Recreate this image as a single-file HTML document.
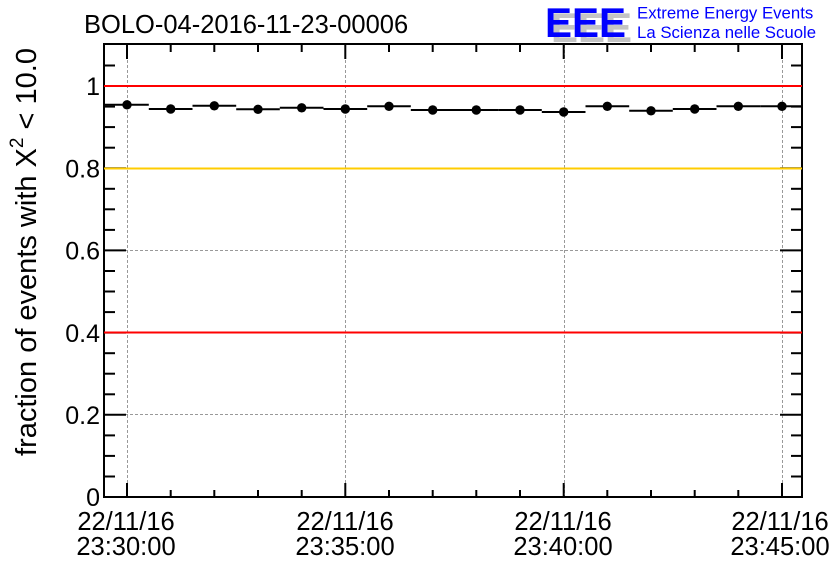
<!DOCTYPE html>
<html><head><meta charset="utf-8"><style>
html,body{margin:0;padding:0;background:#fff;}
svg{display:block;}
text{font-family:"Liberation Sans",Arial,sans-serif;}
</style></head><body>
<svg width="836" height="572" viewBox="0 0 836 572" xmlns="http://www.w3.org/2000/svg">
<rect x="0" y="0" width="836" height="572" fill="#fff"/>
<!-- grid -->
<g stroke="#999" stroke-width="1" stroke-dasharray="3,2" fill="none">
<line x1="127.5" y1="45" x2="127.5" y2="496"/>
<line x1="345.5" y1="45" x2="345.5" y2="496"/>
<line x1="564.5" y1="45" x2="564.5" y2="496"/>
<line x1="782.5" y1="45" x2="782.5" y2="496"/>
<line x1="105" y1="250.5" x2="801" y2="250.5"/>
<line x1="105" y1="414.5" x2="801" y2="414.5"/>
</g>
<!-- data bins -->
<g stroke="#000" stroke-width="2">
<line x1="105" y1="104.8" x2="148.8" y2="104.8"/>
<line x1="148.8" y1="109" x2="192.5" y2="109"/>
<line x1="192.5" y1="105.8" x2="236.2" y2="105.8"/>
<line x1="236.2" y1="109.3" x2="279.8" y2="109.3"/>
<line x1="279.8" y1="107.8" x2="323.5" y2="107.8"/>
<line x1="323.5" y1="109" x2="367.2" y2="109"/>
<line x1="367.2" y1="106.3" x2="410.8" y2="106.3"/>
<line x1="410.8" y1="110" x2="454.5" y2="110"/>
<line x1="454.5" y1="110" x2="498.2" y2="110"/>
<line x1="498.2" y1="110" x2="541.8" y2="110"/>
<line x1="541.8" y1="112" x2="585.5" y2="112"/>
<line x1="585.5" y1="106.3" x2="629.2" y2="106.3"/>
<line x1="629.2" y1="110.8" x2="672.8" y2="110.8"/>
<line x1="672.8" y1="109" x2="716.5" y2="109"/>
<line x1="716.5" y1="106.3" x2="760.2" y2="106.3"/>
<line x1="760.2" y1="106.3" x2="802" y2="106.3"/>
</g>
<g fill="#000">
<circle cx="127" cy="104.8" r="4.7"/>
<circle cx="170.7" cy="109" r="4.7"/>
<circle cx="214.3" cy="105.8" r="4.7"/>
<circle cx="258" cy="109.3" r="4.7"/>
<circle cx="301.7" cy="107.8" r="4.7"/>
<circle cx="345.3" cy="109" r="4.7"/>
<circle cx="389" cy="106.3" r="4.7"/>
<circle cx="432.7" cy="110" r="4.7"/>
<circle cx="476.3" cy="110" r="4.7"/>
<circle cx="520" cy="110" r="4.7"/>
<circle cx="563.7" cy="112" r="4.7"/>
<circle cx="607.3" cy="106.3" r="4.7"/>
<circle cx="651" cy="110.8" r="4.7"/>
<circle cx="694.7" cy="109" r="4.7"/>
<circle cx="738.3" cy="106.3" r="4.7"/>
<circle cx="782" cy="106.3" r="4.7"/>
</g>
<!-- frame -->
<rect x="104" y="44" width="698" height="453" fill="none" stroke="#000" stroke-width="2"/>
<!-- y ticks -->
<g stroke="#000" stroke-width="2">
<line x1="104" y1="497" x2="126" y2="497"/><line x1="802" y1="497" x2="780" y2="497"/>
<line x1="104" y1="476.5" x2="115" y2="476.5"/><line x1="802" y1="476.5" x2="791" y2="476.5"/>
<line x1="104" y1="455.9" x2="115" y2="455.9"/><line x1="802" y1="455.9" x2="791" y2="455.9"/>
<line x1="104" y1="435.4" x2="115" y2="435.4"/><line x1="802" y1="435.4" x2="791" y2="435.4"/>
<line x1="104" y1="414.8" x2="126" y2="414.8"/><line x1="802" y1="414.8" x2="780" y2="414.8"/>
<line x1="104" y1="394.3" x2="115" y2="394.3"/><line x1="802" y1="394.3" x2="791" y2="394.3"/>
<line x1="104" y1="373.7" x2="115" y2="373.7"/><line x1="802" y1="373.7" x2="791" y2="373.7"/>
<line x1="104" y1="353.2" x2="115" y2="353.2"/><line x1="802" y1="353.2" x2="791" y2="353.2"/>
<line x1="104" y1="332.6" x2="126" y2="332.6"/><line x1="802" y1="332.6" x2="780" y2="332.6"/>
<line x1="104" y1="312.1" x2="115" y2="312.1"/><line x1="802" y1="312.1" x2="791" y2="312.1"/>
<line x1="104" y1="291.5" x2="115" y2="291.5"/><line x1="802" y1="291.5" x2="791" y2="291.5"/>
<line x1="104" y1="271" x2="115" y2="271"/><line x1="802" y1="271" x2="791" y2="271"/>
<line x1="104" y1="250.4" x2="126" y2="250.4"/><line x1="802" y1="250.4" x2="780" y2="250.4"/>
<line x1="104" y1="229.9" x2="115" y2="229.9"/><line x1="802" y1="229.9" x2="791" y2="229.9"/>
<line x1="104" y1="209.3" x2="115" y2="209.3"/><line x1="802" y1="209.3" x2="791" y2="209.3"/>
<line x1="104" y1="188.8" x2="115" y2="188.8"/><line x1="802" y1="188.8" x2="791" y2="188.8"/>
<line x1="104" y1="168.2" x2="126" y2="168.2"/><line x1="802" y1="168.2" x2="780" y2="168.2"/>
<line x1="104" y1="147.7" x2="115" y2="147.7"/><line x1="802" y1="147.7" x2="791" y2="147.7"/>
<line x1="104" y1="127.1" x2="115" y2="127.1"/><line x1="802" y1="127.1" x2="791" y2="127.1"/>
<line x1="104" y1="106.6" x2="115" y2="106.6"/><line x1="802" y1="106.6" x2="791" y2="106.6"/>
<line x1="104" y1="86" x2="126" y2="86"/><line x1="802" y1="86" x2="780" y2="86"/>
<line x1="104" y1="65.5" x2="115" y2="65.5"/><line x1="802" y1="65.5" x2="791" y2="65.5"/>
</g>
<!-- x ticks -->
<g stroke="#000" stroke-width="2">
<line x1="127" y1="497" x2="127" y2="483"/><line x1="127" y1="44" x2="127" y2="59"/>
<line x1="170.7" y1="497" x2="170.7" y2="490"/><line x1="170.7" y1="44" x2="170.7" y2="52"/>
<line x1="214.3" y1="497" x2="214.3" y2="490"/><line x1="214.3" y1="44" x2="214.3" y2="52"/>
<line x1="258" y1="497" x2="258" y2="490"/><line x1="258" y1="44" x2="258" y2="52"/>
<line x1="301.7" y1="497" x2="301.7" y2="490"/><line x1="301.7" y1="44" x2="301.7" y2="52"/>
<line x1="345.3" y1="497" x2="345.3" y2="483"/><line x1="345.3" y1="44" x2="345.3" y2="59"/>
<line x1="389" y1="497" x2="389" y2="490"/><line x1="389" y1="44" x2="389" y2="52"/>
<line x1="432.7" y1="497" x2="432.7" y2="490"/><line x1="432.7" y1="44" x2="432.7" y2="52"/>
<line x1="476.3" y1="497" x2="476.3" y2="490"/><line x1="476.3" y1="44" x2="476.3" y2="52"/>
<line x1="520" y1="497" x2="520" y2="490"/><line x1="520" y1="44" x2="520" y2="52"/>
<line x1="563.7" y1="497" x2="563.7" y2="483"/><line x1="563.7" y1="44" x2="563.7" y2="59"/>
<line x1="607.3" y1="497" x2="607.3" y2="490"/><line x1="607.3" y1="44" x2="607.3" y2="52"/>
<line x1="651" y1="497" x2="651" y2="490"/><line x1="651" y1="44" x2="651" y2="52"/>
<line x1="694.7" y1="497" x2="694.7" y2="490"/><line x1="694.7" y1="44" x2="694.7" y2="52"/>
<line x1="738.3" y1="497" x2="738.3" y2="490"/><line x1="738.3" y1="44" x2="738.3" y2="52"/>
<line x1="782" y1="497" x2="782" y2="483"/><line x1="782" y1="44" x2="782" y2="59"/>
</g>
<!-- reference lines (drawn over ticks) -->
<line x1="104" y1="86" x2="802" y2="86" stroke="#ff0000" stroke-width="2"/>
<line x1="104" y1="168.5" x2="802" y2="168.5" stroke="#ffcc00" stroke-width="2"/>
<line x1="104" y1="332.5" x2="802" y2="332.5" stroke="#ff0000" stroke-width="2"/>
<!-- y tick labels -->
<g font-size="25" fill="#000" text-anchor="end">
<text x="100" y="506">0</text>
<text x="100" y="424">0.2</text>
<text x="100" y="342">0.4</text>
<text x="100" y="259.5">0.6</text>
<text x="100" y="177.5">0.8</text>
<text x="100" y="95">1</text>
</g>
<!-- x tick labels -->
<g font-size="25.5" fill="#000" text-anchor="middle">
<text x="126" y="530">22/11/16</text><text x="126" y="555">23:30:00</text>
<text x="345" y="530">22/11/16</text><text x="345" y="555">23:35:00</text>
<text x="563" y="530">22/11/16</text><text x="563" y="555">23:40:00</text>
<text x="780" y="530">22/11/16</text><text x="780" y="555">23:45:00</text>
</g>
<!-- y title -->
<text x="36" y="252" font-size="29" fill="#000" text-anchor="middle" transform="rotate(-90 36 252)">fraction of events with X<tspan font-size="19" dy="-13">2</tspan><tspan dy="13"> &lt; 10.0</tspan></text>
<!-- title -->
<text x="84" y="33" font-size="25.5" fill="#000">BOLO-04-2016-11-23-00006</text>
<!-- logo -->
<text x="551" y="42" font-size="42" font-weight="bold" fill="#c4c4c4" textLength="81" lengthAdjust="spacingAndGlyphs">EEE</text>
<text x="545" y="37" font-size="42" font-weight="bold" fill="#0000ff" textLength="81" lengthAdjust="spacingAndGlyphs">EEE</text>
<text x="637" y="18.5" font-size="16.8" fill="#0000ff">Extreme Energy Events</text>
<text x="637" y="38" font-size="16.8" fill="#0000ff">La Scienza nelle Scuole</text>
</svg>
</body></html>
